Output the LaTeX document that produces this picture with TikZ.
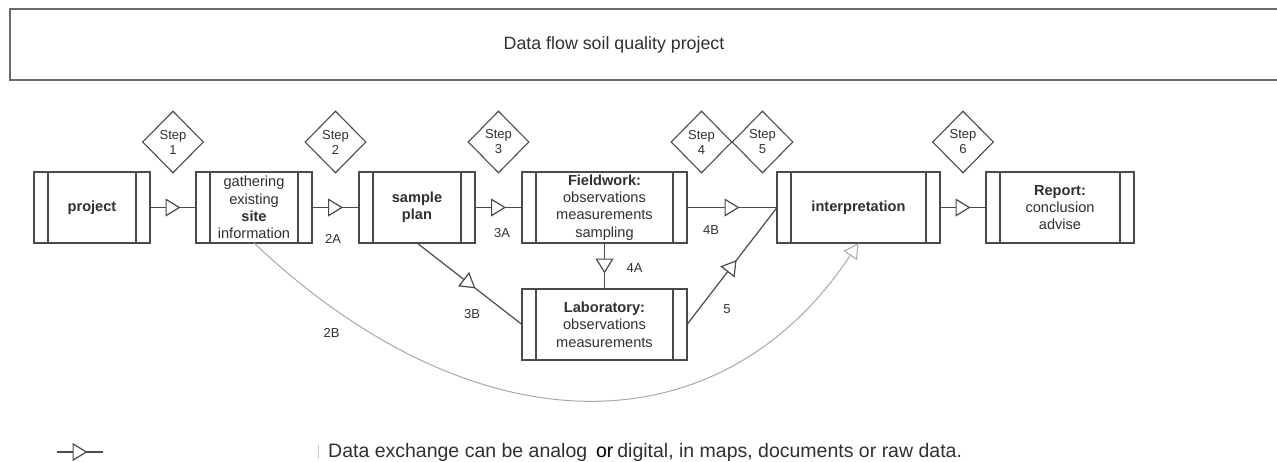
\documentclass[tikz,border=0pt]{standalone}
\usepackage{fontspec}
\setmainfont{Liberation Sans}
\usetikzlibrary{
  shapes.geometric,
  arrows.meta,
  positioning,
  calc,
  decorations.markings
}
\definecolor{LineGray}{HTML}{4A4A4A}
\definecolor{TextGray}{HTML}{303030}
\definecolor{CurveGray}{HTML}{A8A8A8}
\definecolor{FrameGray}{HTML}{6A6A6A}
\newcommand\boxfont{\fontsize{14.6}{17.4}\selectfont}
\newcommand\stepfont{\fontsize{13}{15}\selectfont}
\tikzset{
  % Process box with the two inner bars
  procbox/.style={
    rectangle, draw=LineGray, line width=1.2pt, fill=white,
    minimum width=#1, minimum height=71pt,
    inner sep=0pt, outer sep=0pt,
    align=center, text=TextGray, font=\boxfont,
    path picture={
      \draw[LineGray, line width=1.2pt]
        ([xshift=14pt]path picture bounding box.north west) --
        ([xshift=14pt]path picture bounding box.south west)
        ([xshift=-14pt]path picture bounding box.north east) --
        ([xshift=-14pt]path picture bounding box.south east);
    }
  },
  % Step diamond
  stepmark/.style={
    diamond, draw=LineGray, line width=1.1pt, fill=white,
    minimum width=61pt, minimum height=62pt, inner sep=0pt,
    align=center, text=TextGray, font=\stepfont
  },
  % Data exchange line, open triangle halfway
  flow/.style={
    draw=LineGray, line width=1.2pt,
    postaction={decorate},
    decoration={markings,
      mark=at position 0.5 with {\arrow[xshift=7.5pt]{Triangle[fill=white, length=15pt, width=18pt, line width=1.2pt]}}}
  },
  % Grey bypass curve
  bypass/.style={
    draw=CurveGray, line width=1pt,
    -{Triangle[fill=white, length=15pt, width=16pt, line width=1pt]}
  },
  % Edge label
  lbl/.style={inner sep=0pt, text=TextGray, font=\stepfont}
}
\begin{document}
\begin{tikzpicture}[x=1pt, y=1pt]
  \useasboundingbox (0,0) rectangle (1277,-461);

  % ---- TITLE (frame runs off the right edge) ----
  \coordinate (frameTR) at (1290,-9);
  \coordinate (frameTL) at (10,-9);
  \coordinate (frameBL) at (10,-80);
  \coordinate (frameBR) at (1290,-80);
  \draw[FrameGray, line width=1.3pt] (frameTR) -- (frameTL) -- (frameBL) -- (frameBR);
  \node[text=TextGray, font=\fontsize{17.8}{20}\selectfont] (title) at (614,-44.5)
    {Data flow soil quality project};

  % ---- MAIN ROW ----
  \node[procbox=116pt] (project) at (92,-207.5) {\textbf{project}};
  \node[procbox=116pt, right=46pt of project] (gather) {gathering\\existing\\\textbf{site}\\information};
  \node[procbox=116pt, right=47pt of gather]  (sample) {\textbf{sample}\\\textbf{plan}};
  \node[procbox=165pt, right=47pt of sample]  (field)  {\textbf{Fieldwork:}\\observations\\measurements\\sampling};
  \node[procbox=163pt, right=90pt of field]   (interp) {\textbf{interpretation}};
  \node[procbox=148pt, right=46pt of interp]  (report) {\textbf{Report:}\\conclusion\\advise};

  % ---- LAB ROW ----
  \node[procbox=165pt, below=46pt of field] (lab) {\textbf{Laboratory:}\\observations\\measurements};

  % ---- STEPS ----
  \node[stepmark] (st1) at ($(project.east)!.5!(gather.west)+(0,65.5)$) {Step\\1};
  \node[stepmark] (st2) at ($(gather.east)!.5!(sample.west)+(0,65.5)$)  {Step\\2};
  \node[stepmark] (st3) at ($(sample.east)!.5!(field.west)+(0,65.5)$)   {Step\\3};
  \node[stepmark] (st4) at ($(field.east)!.5!(interp.west)+(-30.5,65.5)$) {Step\\4};
  \node[stepmark] (st5) at ($(field.east)!.5!(interp.west)+(30.5,65.5)$)  {Step\\5};
  \node[stepmark] (st6) at ($(interp.east)!.5!(report.west)+(0,65.5)$)  {Step\\6};

  % ---- ARROWS ----
  \draw[flow] (project) -- (gather);
  \draw[flow] (gather) -- node[lbl, midway, xshift=-2.5pt, yshift=-31.5pt] (l2a) {2A} (sample);
  \draw[flow] (sample) -- node[lbl, midway, xshift=3.5pt, yshift=-25.5pt] (l3a) {3A} (field);
  \draw[flow] (field.east) -- node[lbl, midway, xshift=-21pt, yshift=-22.5pt] (l4b) {4B} (interp.west);
  \draw[flow] (interp) -- (report);
  \draw[flow] (field) -- node[lbl, midway, xshift=30pt, yshift=-2pt] (l4a) {4A} (lab);
  \draw[flow] (sample.south) -- node[lbl, midway, xshift=2.5pt, yshift=-30.5pt] (l3b) {3B} (lab.west);
  \draw[flow] (lab.east) -- node[lbl, midway, xshift=-5pt, yshift=-43pt] (l5) {5} (interp.west);
  \draw[bypass] (gather.south) .. controls +(221,-209) and +(-138.5,-209) .. (interp.south)
    node[lbl, pos=.15, xshift=-23pt, yshift=-10pt] (l2b) {2B};

  % ---- LEGEND ----
  \coordinate (legA) at (57,-452);
  \coordinate (legB) at (103,-452);
  \draw[flow] (legA) -- (legB);
  \draw[CurveGray!60, line width=0.8pt] (318,-445) -- (318,-459);
  \node[anchor=west, inner sep=0pt, text=TextGray, font=\fontsize{19.5}{22}\selectfont] (note) at (328,-452)
    {Data exchange can be analog\hspace{0.45em}{\color{black}or}\hspace{0.2em}digital, in maps, documents or raw data.};

\end{tikzpicture}
\end{document}
